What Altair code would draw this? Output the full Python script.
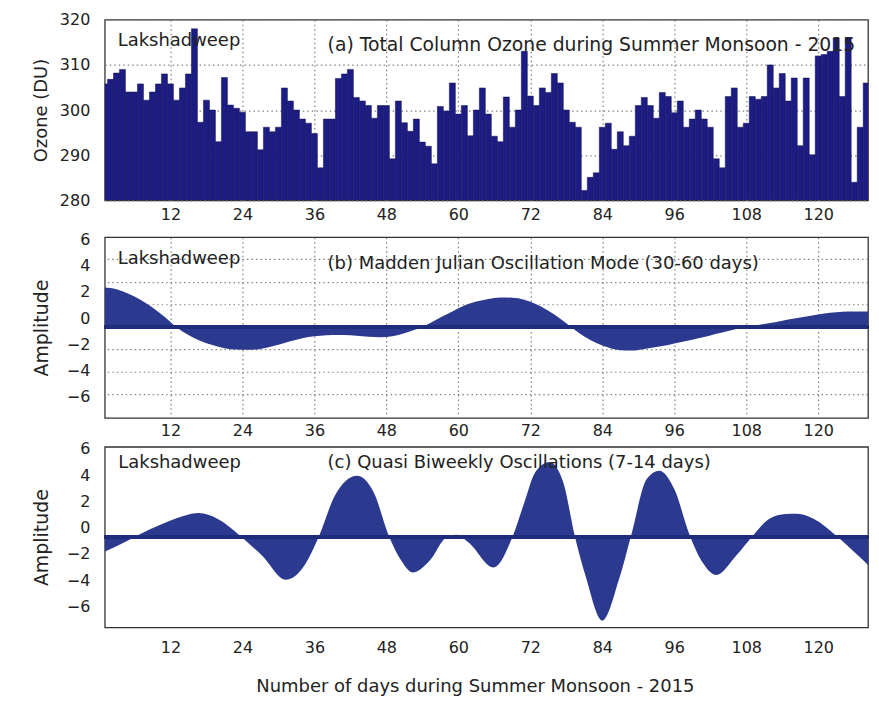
import altair as alt
import pandas as pd

# ---------------- data ----------------
days = list(range(1, 129))
ozone = [
    305.8, 306.8, 308.2, 309.0, 304.0, 304.0, 305.8, 302.2, 304.0, 305.8,
    308.0, 305.8, 302.2, 304.9, 308.0, 318.0, 297.3, 302.2, 300.0, 293.0,
    307.2, 301.1, 300.4, 299.5, 295.2, 295.2, 291.2, 296.2, 295.2, 296.2,
    304.9, 302.0, 300.0, 298.0, 297.1, 294.8, 287.2, 298.0, 298.0, 307.0,
    308.0, 309.0, 302.8, 302.0, 301.0, 298.2, 301.0, 301.0, 289.2, 302.0,
    297.2, 295.3, 298.0, 292.9, 292.0, 288.1, 300.8, 299.8, 306.0, 299.1,
    301.0, 294.3, 300.0, 304.9, 299.1, 294.2, 293.0, 302.9, 296.2, 300.0,
    313.0, 303.1, 301.0, 304.9, 303.9, 308.1, 306.0, 300.0, 297.3, 296.2,
    282.2, 285.1, 286.1, 296.2, 297.1, 291.3, 295.2, 292.1, 294.2, 301.0,
    302.8, 301.0, 298.2, 303.9, 303.0, 299.4, 302.0, 296.2, 298.0, 300.0,
    298.0, 296.2, 289.2, 287.2, 303.0, 304.9, 296.2, 297.1, 303.0, 302.4,
    303.0, 310.0, 304.9, 308.1, 302.0, 307.1, 292.1, 307.1, 290.1, 312.0,
    312.3, 313.0, 316.0, 303.0, 316.0, 284.0, 296.2, 306.0,
]

mjo_days = [1, 3, 5, 7, 9, 11, 13, 15, 17, 19, 21, 23, 25, 27, 29, 31, 33, 35,
            37, 39, 41, 43, 45, 47, 49, 51, 53, 55, 57, 59, 61, 63, 65, 67, 69,
            71, 73, 75, 77, 79, 81, 83, 85, 87, 89, 91, 93, 95, 97, 99, 101, 103,
            105, 107, 109, 111, 113, 115, 117, 119, 121, 123, 125, 127, 128.3]
mjo_vals = [2.32, 2.2, 1.85, 1.4, 0.8, 0.1, -0.7, -1.3, -1.75, -2.05, -2.3, -2.4,
            -2.42, -2.35, -2.15, -1.9, -1.65, -1.45, -1.35, -1.3, -1.3, -1.35,
            -1.42, -1.46, -1.38, -1.15, -0.85, -0.45, 0.05, 0.5, 0.95, 1.25, 1.45,
            1.56, 1.55, 1.4, 1.05, 0.55, -0.05, -0.75, -1.4, -1.9, -2.25, -2.45,
            -2.48, -2.35, -2.2, -2.05, -1.85, -1.65, -1.45, -1.2, -0.98, -0.78,
            -0.62, -0.45, -0.3, -0.12, 0.05, 0.2, 0.35, 0.45, 0.5, 0.5, 0.5]

qbo_days = [1.0, 4.1, 6.4, 10.6, 14.3, 16.7, 19.9, 23.6, 27.3, 31.2, 34.3, 36.8,
            39.4, 43.1, 45.9, 48.4, 50.5, 52.4, 55.2, 58.0, 59.7, 61.7, 65.9,
            69.1, 71.0, 72.8, 75.2, 77.5, 79.4, 81.2, 84.0, 86.8, 88.8, 91.4,
            93.5, 96.0, 98.6, 100.7, 103.0, 106.3, 109.1, 111.8, 114.6, 116.5,
            119.3, 123.0, 126.7, 128.3]
qbo_vals = [-1.85, -1.18, -0.62, 0.27, 0.9, 1.1, 0.65, -0.62, -2.15, -3.97, -2.9,
            -0.62, 2.42, 3.94, 2.67, -0.62, -2.53, -3.42, -2.53, -0.75, -0.55,
            -1.13, -3.04, -0.62, 1.91, 4.2, 5.0, 3.43, -0.62, -3.67, -7.09, -3.92,
            -0.62, 3.69, 4.32, 2.93, -0.62, -2.65, -3.62, -2.15, -0.62, 0.65,
            1.03, 1.05, 0.65, -0.62, -2.15, -2.85]

x_ticks = [12, 24, 36, 48, 60, 72, 84, 96, 108, 120]
ozone_ticks = [280, 290, 300, 310, 320]
OZONE_BASE = 280
amp_ticks = [-6, -4, -2, 0, 2, 4, 6]
amp_grid = [4.47, 2.7, 1.01, -2.41, -4.13, -5.83]
BASELINE = -0.7

station = "Lakshadweep"
title_a = "(a) Total Column Ozone during Summer Monsoon - 2015"
title_b = "(b) Madden Julian Oscillation Mode (30-60 days)"
title_c = "(c) Quasi Biweekly Oscillations (7-14 days)"
x_title = "Number of days during Summer Monsoon - 2015"

# ---------------- styling ----------------
FONT = "DejaVu Sans"
W, H = 765, 181
X_DOMAIN = [1.05, 128.3]
AMP_DOMAIN = [-7.6, 6.15]
BAR_COLOR = "#1c1c84"
AREA_COLOR = "#2b3a8e"
GRID_COLOR = "#808080"
GRID_DASH = [1.5, 3]

ozone_df = pd.DataFrame({"day": days, "ozone": ozone})
mjo_df = pd.DataFrame({"day": mjo_days, "amp": mjo_vals})
qbo_df = pd.DataFrame({"day": qbo_days, "amp": qbo_vals})
grid_df = pd.DataFrame({"level": amp_grid})

x_scale = alt.Scale(domain=X_DOMAIN, nice=False, zero=False)
oz_scale = alt.Scale(domain=[280, 320], nice=False, zero=False)
amp_scale = alt.Scale(domain=AMP_DOMAIN, nice=False, zero=False)


def x_axis(grid=True, pad=6, title=None, **kw):
    args = dict(values=x_ticks, grid=grid, gridDash=GRID_DASH, gridColor=GRID_COLOR,
                gridWidth=1.2, ticks=False, domain=False, labelFontSize=16,
                labelPadding=pad, labelFont=FONT, labelColor="#222",
                labelOverlap=False)
    args["title"] = title if title is not None else None
    args.update(kw)
    return alt.Axis(**args)


def text_layer(txt, day, val, xs, xa, ys, ya, size=18):
    return alt.Chart(pd.DataFrame({"t": [txt]})).mark_text(
        align="left", baseline="middle", font=FONT, fontSize=size, color="#222"
    ).encode(
        x=alt.XDatum(day, scale=xs, axis=xa),
        y=alt.YDatum(val, scale=ys, axis=ya),
        text="t:N",
    )


# ---------------- panel (a) ----------------
xa_a = x_axis(pad=6, title=" ", titleFontSize=7, titlePadding=0)
ya_a = alt.Axis(values=ozone_ticks, title="Ozone (DU)", grid=True,
                gridDash=GRID_DASH, gridColor=GRID_COLOR, gridWidth=1.2,
                ticks=False, domain=False, labelFontSize=16, labelPadding=15,
                labelFont=FONT, labelColor="#222", labelOverlap=False,
                titleFont=FONT, titleFontSize=18, titleFontWeight="normal",
                titleColor="#222", titlePadding=9)
bars = alt.Chart(ozone_df).transform_calculate(
    x0="datum.day - 0.5", x1="datum.day + 0.5"
).mark_bar(color=BAR_COLOR, stroke="#10104a", strokeWidth=0.5, clip=True).encode(
    x=alt.X("x0:Q", scale=x_scale, axis=xa_a),
    x2="x1:Q",
    y=alt.Y("ozone:Q", scale=oz_scale, axis=ya_a),
    y2=alt.datum(OZONE_BASE),
)
panel_a = alt.layer(
    bars,
    text_layer(station, 3.2, 315.4, x_scale, xa_a, oz_scale, ya_a),
    text_layer(title_a, 38.2, 314.4, x_scale, xa_a, oz_scale, ya_a, size=18.8),
).properties(width=W, height=H)

# ---------------- panel (b) ----------------
amp_axis = dict(values=amp_ticks, grid=False, ticks=False, domain=False,
                labelFontSize=16, labelPadding=15, labelFont=FONT, labelColor="#222",
                labelOverlap=False,
                title="Amplitude", titleFont=FONT, titleFontSize=19,
                titleFontWeight="normal", titleColor="#222", titlePadding=15)
ya_amp = alt.Axis(**amp_axis)
xa_b = x_axis(pad=5)

grid_b = alt.Chart(grid_df).mark_rule(
    color=GRID_COLOR, strokeDash=GRID_DASH, strokeWidth=1.2
).encode(y=alt.Y("level:Q", scale=amp_scale, axis=ya_amp))

area_b = alt.Chart(mjo_df).mark_area(
    color=AREA_COLOR, interpolate="monotone", clip=True, opacity=1
).encode(
    x=alt.X("day:Q", scale=x_scale, axis=xa_b),
    y=alt.Y("amp:Q", scale=amp_scale, axis=ya_amp),
    y2=alt.datum(BASELINE),
)
base_b = alt.Chart(mjo_df).mark_rule(color="#1f2c7c", strokeWidth=3).encode(
    y=alt.YDatum(BASELINE, scale=amp_scale, axis=ya_amp)
)
panel_b = alt.layer(
    grid_b, area_b, base_b,
    text_layer(station, 3.2, 4.48, x_scale, xa_b, amp_scale, ya_amp),
    text_layer(title_b, 38.2, 4.15, x_scale, xa_b, amp_scale, ya_amp),
).properties(width=W, height=H)

# ---------------- panel (c) ----------------
xa_c = x_axis(grid=False, pad=12, title=x_title, titleFont=FONT,
              titleFontSize=18, titleFontWeight="normal", titleColor="#222",
              titlePadding=22, titleX=371)
area_c = alt.Chart(qbo_df).mark_area(
    color=AREA_COLOR, interpolate="monotone", clip=True, opacity=1
).encode(
    x=alt.X("day:Q", scale=x_scale, axis=xa_c),
    y=alt.Y("amp:Q", scale=amp_scale, axis=ya_amp),
    y2=alt.datum(BASELINE),
)
base_c = alt.Chart(qbo_df).mark_rule(color="#1f2c7c", strokeWidth=3).encode(
    y=alt.YDatum(BASELINE, scale=amp_scale, axis=ya_amp)
)
panel_c = alt.layer(
    area_c, base_c,
    text_layer(station, 3.3, 4.93, x_scale, xa_c, amp_scale, ya_amp),
    text_layer(title_c, 38.2, 4.93, x_scale, xa_c, amp_scale, ya_amp),
).properties(width=W, height=H)

chart = alt.vconcat(panel_a, panel_b, panel_c, spacing=0).properties(
    padding={"left": 23, "top": 2, "right": 0, "bottom": 0},
    background="white",
).configure_view(stroke="#333", strokeWidth=1.3).configure_axis(
    labelFont=FONT, titleFont=FONT, labelOverlap=False
)

chart.save("out.html", embed_options={"renderer": "svg", "actions": False})
